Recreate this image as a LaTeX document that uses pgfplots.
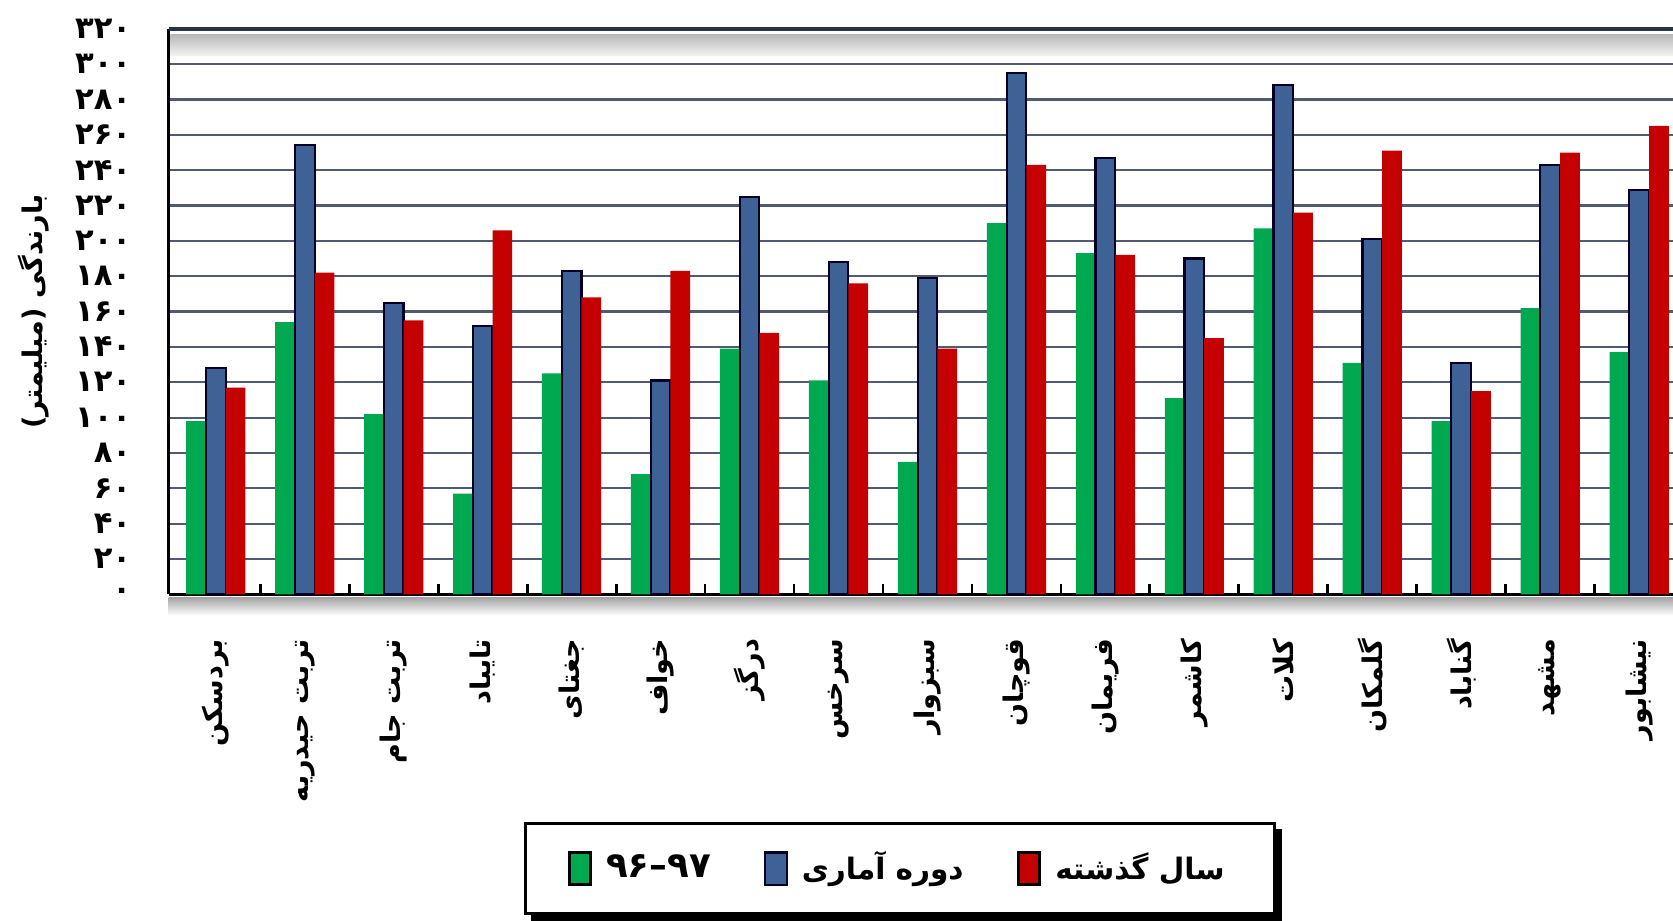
\documentclass[border=0pt]{standalone}
\usepackage{fontspec}
\usepackage{pgfplots}
\pgfplotsset{compat=1.18}
\TeXXeTstate=1
\newfontfamily\arabicfont[Script=Arabic]{DejaVu Sans}
\definecolor{barGreen}{RGB}{0,168,80}
\definecolor{barBlue}{RGB}{62,98,150}
\definecolor{barRed}{RGB}{196,0,0}
\definecolor{gridGray}{RGB}{80,90,112}
\definecolor{frameNavy}{RGB}{40,50,80}
\pgfplotsset{legbox/.style={legend image code/.code={\draw[##1] (0pt,-4.5pt) rectangle (6pt,4.5pt);}}}

\begin{document}
\begin{tikzpicture}
\path[use as bounding box] (-47.4pt,-91.8pt) rectangle (423pt,167.1pt);
\begin{axis}[
  scale only axis,
  width=423pt, height=159pt,
  ybar=0pt, bar width=5.55pt,
  ymin=0, ymax=320,
  xmin=-0.53, xmax=16.38,
  axis x line=bottom, axis y line=left,
  axis line style={-, black, line width=1pt},
  ytick={0,20,...,320},
  yticklabels={۰,۲۰,۴۰,۶۰,۸۰,۱۰۰,۱۲۰,۱۴۰,۱۶۰,۱۸۰,۲۰۰,۲۲۰,۲۴۰,۲۶۰,۲۸۰,۳۰۰,۳۲۰},
  yticklabel style={font=\arabicfont\bfseries\fontsize{8.6}{9}\selectfont},
  yticklabel shift=7pt,
  ymajorgrids,
  grid style={gridGray, line width=0.6pt},
  major tick length=0pt,
  xtick={0,...,16},
  xticklabels={\beginR بردسکن\endR,\beginR تربت حیدریه\endR,\beginR تربت جام\endR,\beginR تایباد\endR,\beginR جغتای\endR,\beginR خواف\endR,\beginR درگز\endR,\beginR سرخس\endR,\beginR سبزوار\endR,\beginR قوچان\endR,\beginR فریمان\endR,\beginR کاشمر\endR,\beginR کلات\endR,\beginR گلمکان\endR,\beginR گناباد\endR,\beginR مشهد\endR,\beginR نیشابور\endR},
  xticklabel style={font=\arabicfont\bfseries\fontsize{7.6}{8}\selectfont, rotate=90, anchor=east},
  xticklabel shift=9pt,
  minor xtick={0.5,1.5,...,15.5},
  minor tick length=3pt,
  tick align=inside,
  tick style={black, line width=0.8pt},
  legend columns=3,
  legend style={at={(0.486,-0.485)}, anchor=center, draw=black, line width=0.8pt,
    fill=white, inner xsep=12pt, inner ysep=6pt, name=leg,
    font=\arabicfont\bfseries\fontsize{8.3}{10}\selectfont,
    /tikz/every odd column/.append style={column sep=2pt},
    /tikz/every even column/.append style={column sep=13pt}},
]
\addplot[fill=barGreen, draw=none, legbox]
  coordinates {(0,98) (1,154) (2,102) (3,57) (4,125) (5,68) (6,139) (7,121) (8,75)
    (9,210) (10,193) (11,111) (12,207) (13,131) (14,98) (15,162) (16,137)};
\addlegendentry{\fontsize{10}{12}\selectfont ۹۷–۹۶}
\addplot[fill=barBlue, draw=black!85!blue, line width=0.6pt, legbox]
  coordinates {(0,128) (1,254) (2,165) (3,152) (4,183) (5,121) (6,225) (7,188) (8,179)
    (9,295) (10,247) (11,190) (12,288) (13,201) (14,131) (15,243) (16,229)};
\addlegendentry{\beginR دوره آماری\endR}
\addplot[fill=barRed, draw=none, legbox]
  coordinates {(0,117) (1,182) (2,155) (3,206) (4,168) (5,183) (6,148) (7,176) (8,139)
    (9,243) (10,192) (11,145) (12,216) (13,251) (14,115) (15,250) (16,265)};
\addlegendentry{\beginR سال گذشته\endR}
\end{axis}
% legend shadow
\draw[black, line width=1.8pt] ([xshift=2pt,yshift=-0.9pt]leg.south west) -- ([xshift=0.9pt,yshift=-0.9pt]leg.south east) -- ([xshift=0.9pt,yshift=-2pt]leg.north east);
% frame shading and top line
\shade[top color=black!35, bottom color=white] (0pt,-1pt) rectangle (423pt,-6pt);
\shade[top color=black!28, bottom color=black!5] (0.5pt,157.5pt) rectangle (423pt,151.5pt);
\draw[frameNavy, line width=1pt] (0pt,159pt) -- (423pt,159pt);
\node[rotate=90, font=\arabicfont\bfseries\fontsize{7.6}{9}\selectfont] at (-38pt,79.5pt) {\beginR بارندگی (میلیمتر)\endR};
\end{tikzpicture}
\end{document}
